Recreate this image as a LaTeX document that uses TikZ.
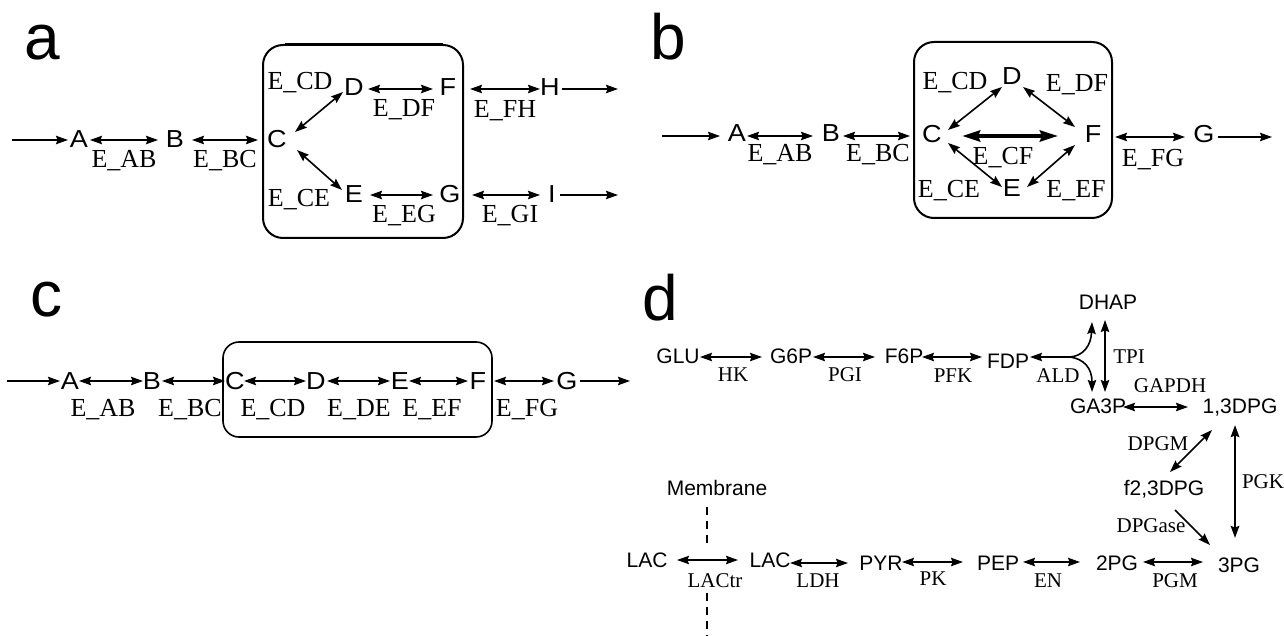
\documentclass[tikz,border=0pt]{standalone}
\usepackage{fontspec}
\setmainfont{Liberation Serif}
\newfontfamily\arialf{Liberation Sans}
\newfontfamily\arialw[FakeStretch=1.1]{Liberation Sans}
\usetikzlibrary{arrows.meta,calc}
\begin{document}
\begin{tikzpicture}[x=0.5pt,y=-0.5pt,
  >={Stealth[length=6pt,width=4.2pt,inset=0.8pt]},
  arr/.style={line width=0.8pt,->},
  dbl/.style={line width=0.8pt,<->},
  thk/.style={line width=2pt,<->,>={Stealth[length=9pt,width=5.5pt,inset=1pt]}},
  mid/.style={line width=1.3pt,<->},
  boxst/.style={line width=1pt,rounded corners=10pt},
  sp/.style={font=\arialw\fontsize{12.3}{14}\selectfont,inner sep=0pt,anchor=base},
  en/.style={font=\fontsize{13}{15}\selectfont,inner sep=0pt,anchor=base},
  dsp/.style={font=\arialf\fontsize{10.5}{12}\selectfont,inner sep=0pt,anchor=base},
  den/.style={font=\fontsize{10.5}{12}\selectfont,inner sep=0pt,anchor=base},
  plet/.style={font=\arialf\fontsize{32}{36}\selectfont,inner sep=0pt,anchor=base},
  memb/.style={line width=0.7pt,dash pattern=on 4pt off 3pt}]
\fill[white] (0,0) rectangle (1284,636);
\useasboundingbox (0,0) rectangle (1284,636);

% ---------------- panel a ----------------
\node[plet] (la) at (42,60) {a};
\node[sp] (aA) at (79,148) {A};
\node[sp] (aB) at (175,148) {B};
\node[sp] (aC) at (277,148) {C};
\node[sp] (aD) at (354,96) {D};
\node[sp] (aF) at (448,96) {F};
\node[sp] (aH) at (550,96) {H};
\node[sp] (aE) at (354,203) {E};
\node[sp] (aG) at (450,203) {G};
\node[sp] (aI) at (552,203) {I};
\node[en] (aEAB) at (124,168) {E\_AB};
\node[en] (aEBC) at (225,168) {E\_BC};
\node[en] (aECD) at (300,90) {E\_CD};
\node[en] (aEDF) at (404,117) {E\_DF};
\node[en] (aEFH) at (505,118) {E\_FH};
\node[en] (aECE) at (299,207) {E\_CE};
\node[en] (aEEG) at (404,223) {E\_EG};
\node[en] (aEGI) at (510,223) {E\_GI};
\coordinate (ain) at (12,140);
\coordinate (aHo) at (618,89);
\coordinate (aIo) at (618,195);
\draw[boxst] (263,45) rectangle (463,238);
\draw[line width=1.5pt] (285,45) -- (443,45);
\draw[arr] (ain) -- ($(aA.base)+(-11,-8)$);
\draw[dbl] ($(aA.base)+(11,-8)$) -- ($(aB.base)+(-17,-8)$);
\draw[dbl] ($(aB.base)+(17,-8)$) -- ($(aC.base)+(-19,-8)$);
\draw[dbl] ($(aC.base)+(18,-16)$) -- ($(aD.base)+(-11,-4)$);
\draw[dbl] ($(aC.base)+(20,2)$) -- ($(aE.base)+(-12,-13)$);
\draw[dbl] ($(aD.base)+(14,-7)$) -- ($(aF.base)+(-15,-7)$);
\draw[dbl] ($(aE.base)+(16,-8)$) -- ($(aG.base)+(-17,-8)$);
\draw[dbl] ($(aF.base)+(22,-7)$) -- ($(aH.base)+(-10,-7)$);
\draw[arr] ($(aH.base)+(12,-7)$) -- (aHo);
\draw[dbl] ($(aG.base)+(22,-8)$) -- ($(aI.base)+(-12,-8)$);
\draw[arr] ($(aI.base)+(8,-8)$) -- (aIo);

% ---------------- panel b ----------------
\node[plet] (lb) at (668,60) {b};
\node[sp] (bA) at (737,142) {A};
\node[sp] (bB) at (831,142) {B};
\node[sp] (bC) at (932,143) {C};
\node[sp] (bD) at (1012,85) {D};
\node[sp] (bE) at (1012,197) {E};
\node[sp] (bF) at (1093,143) {F};
\node[sp] (bG) at (1204,143) {G};
\node[en] (bEAB) at (780,162) {E\_AB};
\node[en] (bEBC) at (878,162) {E\_BC};
\node[en] (bECD) at (955,90) {E\_CD};
\node[en] (bEDF) at (1077,92) {E\_DF};
\node[en] (bECF) at (1003,165) {E\_CF};
\node[en] (bECE) at (949,198) {E\_CE};
\node[en] (bEEF) at (1076,198) {E\_EF};
\node[en] (bEFG) at (1153,167) {E\_FG};
\coordinate (bin) at (662,136);
\coordinate (bout) at (1272,137);
\draw[boxst] (914,42) rectangle (1112,218);
\draw[arr] (bin) -- ($(bA.base)+(-17,-6)$);
\draw[dbl] ($(bA.base)+(10,-6)$) -- ($(bB.base)+(-18,-6)$);
\draw[dbl] ($(bB.base)+(12,-6)$) -- ($(bC.base)+(-22,-7)$);
\draw[dbl] ($(bC.base)+(16,-13)$) -- ($(bD.base)+(-10,2)$);
\draw[dbl] ($(bD.base)+(11,2)$) -- ($(bF.base)+(-18,-16)$);
\draw[thk] ($(bC.base)+(30,-7)$) -- ($(bF.base)+(-35,-7)$);
\draw[dbl] ($(bC.base)+(16,0)$) -- ($(bE.base)+(-10,-10)$);
\draw[dbl] ($(bE.base)+(15,-10)$) -- ($(bF.base)+(-18,2)$);
\draw[dbl] ($(bF.base)+(22,-6)$) -- ($(bG.base)+(-19,-6)$);
\draw[arr] ($(bG.base)+(14,-6)$) -- (bout);

% ---------------- panel c ----------------
\node[plet] (lc) at (46,316) {c};
\node[sp] (cA) at (70,389) {A};
\node[sp] (cB) at (152,389) {B};
\node[sp] (cC) at (235,389) {C};
\node[sp] (cD) at (316,389) {D};
\node[sp] (cE) at (400,389) {E};
\node[sp] (cF) at (478,389) {F};
\node[sp] (cG) at (567,389) {G};
\node[en] (cEAB) at (103,416) {E\_AB};
\node[en] (cEBC) at (190,416) {E\_BC};
\node[en] (cECD) at (273,416) {E\_CD};
\node[en] (cEDE) at (359,416) {E\_DE};
\node[en] (cEEF) at (432,416) {E\_EF};
\node[en] (cEFG) at (527,416) {E\_FG};
\coordinate (cin) at (7,381);
\coordinate (cout) at (630,381);
\draw[boxst,line width=0.8pt,rounded corners=8pt] (223,342) rectangle (492,437);
\draw[arr] (cin) -- ($(cA.base)+(-10,-8)$);
\draw[dbl] ($(cA.base)+(9,-8)$) -- ($(cB.base)+(-9,-8)$);
\draw[dbl] ($(cB.base)+(10,-8)$) -- ($(cC.base)+(-10,-8)$);
\draw[dbl] ($(cC.base)+(9,-8)$) -- ($(cD.base)+(-10,-8)$);
\draw[dbl] ($(cD.base)+(11,-8)$) -- ($(cE.base)+(-10,-8)$);
\draw[dbl] ($(cE.base)+(9,-8)$) -- ($(cF.base)+(-10,-8)$);
\draw[dbl] ($(cF.base)+(16,-8)$) -- ($(cG.base)+(-13,-8)$);
\draw[arr] ($(cG.base)+(13,-8)$) -- (cout);

% ---------------- panel d ----------------
\node[plet] (ld) at (660,320) {d};
\node[dsp] (dGLU) at (678,363) {GLU};
\node[dsp] (dG6P) at (791,363) {G6P};
\node[dsp] (dF6P) at (904,363) {F6P};
\node[dsp] (dFDP) at (1008,368) {FDP};
\node[dsp] (dDHAP) at (1108,309) {DHAP};
\node[dsp] (dGA3P) at (1098,413) {GA3P};
\node[dsp] (d13) at (1240,413) {1,3DPG};
\node[dsp] (dF23) at (1164,495) {f2,3DPG};
\node[dsp] (d3PG) at (1239,572) {3PG};
\node[dsp] (d2PG) at (1117,570) {2PG};
\node[dsp] (dPEP) at (998,570) {PEP};
\node[dsp] (dPYR) at (881,570) {PYR};
\node[dsp] (dLAC2) at (770,567) {LAC};
\node[dsp] (dLAC1) at (647,567) {LAC};
\node[dsp] (dMem) at (717,495) {Membrane};
\node[den] (dHK) at (733,381) {HK};
\node[den] (dPGI) at (845,381) {PGI};
\node[den] (dPFK) at (953,382) {PFK};
\node[den] (dALD) at (1058,382) {ALD};
\node[den] (dTPI) at (1129,363) {TPI};
\node[den] (dGAPDH) at (1170,392) {GAPDH};
\node[den] (dDPGM) at (1158,450) {DPGM};
\node[den] (dDPGase) at (1151,532) {DPGase};
\node[den] (dPGK) at (1263,488) {PGK};
\node[den] (dPGM) at (1175,587) {PGM};
\node[den] (dEN) at (1048,587) {EN};
\node[den] (dPK) at (933,585) {PK};
\node[den] (dLDH) at (818,587) {LDH};
\node[den] (dLACtr) at (715,587) {LACtr};
\coordinate (dJ) at (1070,357);
\coordinate (mbot) at (707,636);
\draw[dbl] ($(dGLU.base)+(22,-6)$) -- ($(dG6P.base)+(-29,-6)$);
\draw[dbl] ($(dG6P.base)+(22,-6)$) -- ($(dF6P.base)+(-29,-6)$);
\draw[dbl] ($(dF6P.base)+(18,-6)$) -- ($(dFDP.base)+(-26,-11)$);
\draw[line width=0.8pt,<-] ($(dFDP.base)+(22,-11)$) -- (dJ);
\draw[line width=0.8pt,->] (dJ) .. controls (1083,356) and (1091,346) .. ($(dDHAP.base)+(-16,13)$);
\draw[line width=0.8pt,->] (dJ) .. controls (1084,359) and (1092,368) .. ($(dGA3P.base)+(-6,-21)$);
\draw[dbl] ($(dDHAP.base)+(-3,11)$) -- ($(dGA3P.base)+(7,-21)$);
\draw[dbl] ($(dGA3P.base)+(25,-6)$) -- ($(d13.base)+(-52,-6)$);
\draw[dbl] ($(d13.base)+(-28,17)$) -- ($(dF23.base)+(6,-23)$);
\draw[arr] ($(dF23.base)+(11,15)$) -- ($(d3PG.base)+(-29,-27)$);
\draw[mid] ($(d13.base)+(-5,12)$) -- ($(d3PG.base)+(-4,-34)$);
\draw[dbl] ($(d2PG.base)+(26,-8)$) -- ($(d3PG.base)+(-36,-10)$);
\draw[dbl] ($(dPEP.base)+(25,-8)$) -- ($(d2PG.base)+(-37,-8)$);
\draw[dbl] ($(dPYR.base)+(21,-8)$) -- ($(dPEP.base)+(-35,-8)$);
\draw[dbl] ($(dLAC2.base)+(20,-4)$) -- ($(dPYR.base)+(-33,-7)$);
\draw[dbl] ($(dLAC1.base)+(30,-7)$) -- ($(dLAC2.base)+(-32,-7)$);
\draw[memb] ($(dMem.base)+(-10,12)$) -- ($(dLACtr.base)+(-8,-39)$);
\draw[memb] ($(dLACtr.base)+(-8,6)$) -- (mbot);
\end{tikzpicture}
\end{document}
